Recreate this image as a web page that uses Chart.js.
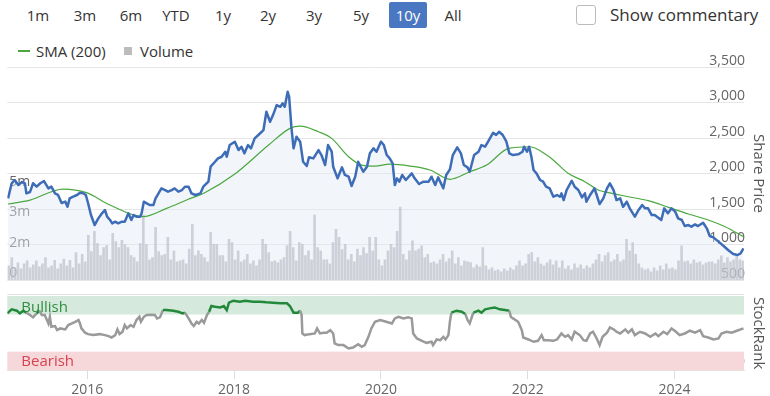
<!DOCTYPE html>
<html lang="en">
<head>
<meta charset="UTF-8">
<title>Share Price</title>
<script src="https://cdn.jsdelivr.net/npm/chart.js"></script>
<style>
  body { margin: 0; background: #fff; font-family: 'Open Sans', sans-serif; color: #333; }
  #wrap { position: relative; width: 770px; height: 396px; overflow: hidden; }
  .btn { position: absolute; top: 2px; width: 40px; height: 26px; line-height: 26px; text-align: center; font-size: 15px; color: #333; }
  .btn.on { background: #4a77c2; color: #fff; border-radius: 2px; width: 38px; }
  .lg { position: absolute; font-size: 15px; line-height: 18px; top: 42px; color: #333; }
  canvas { position: absolute; left: 0; }
</style>
</head>
<body>
<div id="wrap">
  <div class="btn" style="left:18px">1m</div>
  <div class="btn" style="left:65px">3m</div>
  <div class="btn" style="left:111px">6m</div>
  <div class="btn" style="left:156px">YTD</div>
  <div class="btn" style="left:203px">1y</div>
  <div class="btn" style="left:248px">2y</div>
  <div class="btn" style="left:294px">3y</div>
  <div class="btn" style="left:341px">5y</div>
  <div class="btn on" style="left:389px">10y</div>
  <div class="btn" style="left:433px">All</div>
  <div style="position:absolute;left:576px;top:5px;width:18px;height:18px;border:1px solid #bbb;border-radius:3px"></div>
  <div style="position:absolute;left:610px;top:3px;font-size:17px;line-height:24px;color:#333">Show commentary</div>

  <div style="position:absolute;left:18px;top:50px;width:12px;height:1.5px;background:#4aa83f"></div>
  <div class="lg" style="left:36px">SMA (200)</div>
  <div style="position:absolute;left:124px;top:47px;width:8px;height:8px;background:#bcbcbc"></div>
  <div class="lg" style="left:140px">Volume</div>

  <canvas id="priceChart" width="770" height="260" style="top:40px"></canvas>
  <canvas id="rankChart" width="770" height="115" style="top:285px"></canvas>
</div>
<script>
// x values are decimal years
var xMin = 2014.91
var xMax = 2024.947

var priceDates = [
  2014.92, 2014.97, 2015.01, 2015.06, 2015.11, 2015.15, 2015.17, 2015.22, 2015.26, 2015.31,
  2015.36, 2015.41, 2015.47, 2015.51, 2015.56, 2015.60, 2015.65, 2015.70, 2015.73, 2015.76,
  2015.80, 2015.86, 2015.90, 2015.95, 2015.98, 2016.01, 2016.05, 2016.10, 2016.15, 2016.20,
  2016.24, 2016.27, 2016.31, 2016.34, 2016.38, 2016.42, 2016.47, 2016.51, 2016.56, 2016.60,
  2016.63, 2016.67, 2016.72, 2016.74, 2016.77, 2016.81, 2016.85, 2016.90, 2016.93, 2016.97,
  2017.01, 2017.06, 2017.10, 2017.15, 2017.19, 2017.24, 2017.29, 2017.33, 2017.38, 2017.42,
  2017.47, 2017.54, 2017.58, 2017.65, 2017.68, 2017.74, 2017.78, 2017.83, 2017.88, 2017.90,
  2017.94, 2018.01, 2018.06, 2018.10, 2018.14, 2018.19, 2018.23, 2018.28, 2018.33, 2018.40,
  2018.44, 2018.49, 2018.53, 2018.58, 2018.63, 2018.66, 2018.69, 2018.73, 2018.75, 2018.78,
  2018.81, 2018.85, 2018.90, 2018.94, 2018.99, 2019.02, 2019.08, 2019.15, 2019.19, 2019.24,
  2019.28, 2019.33, 2019.35, 2019.41, 2019.47, 2019.51, 2019.56, 2019.60, 2019.65, 2019.69,
  2019.76, 2019.81, 2019.85, 2019.90, 2019.94, 2020.00, 2020.04, 2020.08, 2020.12, 2020.16,
  2020.19, 2020.22, 2020.25, 2020.29, 2020.34, 2020.42, 2020.46, 2020.52, 2020.58, 2020.65,
  2020.69, 2020.74, 2020.78, 2020.85, 2020.89, 2020.94, 2020.98, 2021.04, 2021.09, 2021.13,
  2021.18, 2021.21, 2021.27, 2021.33, 2021.37, 2021.42, 2021.46, 2021.53, 2021.57, 2021.61,
  2021.66, 2021.71, 2021.75, 2021.80, 2021.87, 2021.93, 2021.95, 2021.99, 2022.02, 2022.05,
  2022.08, 2022.12, 2022.17, 2022.21, 2022.25, 2022.30, 2022.35, 2022.40, 2022.44, 2022.46,
  2022.49, 2022.53, 2022.60, 2022.64, 2022.69, 2022.74, 2022.78, 2022.80, 2022.85, 2022.91,
  2022.94, 2022.98, 2023.03, 2023.08, 2023.12, 2023.17, 2023.21, 2023.26, 2023.30, 2023.35,
  2023.39, 2023.46, 2023.51, 2023.56, 2023.60, 2023.64, 2023.69, 2023.73, 2023.82, 2023.86,
  2023.91, 2023.96, 2024.01, 2024.05, 2024.10, 2024.14, 2024.19, 2024.23, 2024.28, 2024.32,
  2024.39, 2024.44, 2024.48, 2024.53, 2024.60, 2024.67, 2024.73, 2024.80, 2024.86, 2024.90,
  2024.94
]
var priceValues = [
  1650, 1862, 1908, 1838, 1880, 1862, 1720, 1740, 1862, 1815,
  1862, 1894, 1790, 1815, 1720, 1700, 1584, 1605, 1532, 1650,
  1672, 1697, 1730, 1720, 1697, 1584, 1415, 1274, 1368, 1439,
  1486, 1392, 1345, 1298, 1321, 1298, 1321, 1321, 1439, 1345,
  1415, 1392, 1392, 1439, 1603, 1580, 1556, 1556, 1650, 1720,
  1790, 1767, 1744, 1767, 1790, 1744, 1767, 1814, 1814, 1720,
  1697, 1720, 1814, 1885, 2096, 2166, 2213, 2236, 2307, 2236,
  2401, 2448, 2330, 2377, 2284, 2401, 2354, 2495, 2542, 2612,
  2870, 2729, 2823, 2964, 2940, 2988, 2940, 3151, 3080, 2659,
  2354, 2518, 2448, 2166, 2105, 2228, 2213, 2330, 2260, 2119,
  2401, 2307, 2096, 1932, 2087, 1979, 1955, 1824, 1955, 2166,
  2025, 2096, 2284, 2354, 2307, 2448, 2401, 2260, 2213, 2143,
  1838, 1932, 1885, 1979, 1908, 2002, 1932, 1852, 1885, 1885,
  1955, 1838, 1945, 1791, 1979, 2058, 2260, 2368, 2284, 2119,
  2087, 2025, 2260, 2307, 2401, 2377, 2448, 2574, 2542, 2588,
  2542, 2448, 2284, 2260, 2270, 2307, 2377, 2307, 2377, 2236,
  2049, 2002, 1908, 1885, 1814, 1790, 1673, 1697, 1673, 1720,
  1626, 1767, 1898, 1814, 1767, 1664, 1720, 1603, 1697, 1791,
  1697, 1570, 1650, 1790, 1861, 1767, 1626, 1650, 1532, 1603,
  1509, 1392, 1486, 1556, 1509, 1509, 1415, 1415, 1345, 1509,
  1439, 1509, 1462, 1368, 1345, 1260, 1274, 1250, 1283, 1260,
  1307, 1228, 1120, 1100, 1040, 979, 922, 866, 852, 875,
  946
]

var smaDates = [2014.92, 2015.22, 2015.67, 2015.99, 2016.31, 2016.76, 2017.08, 2017.36, 2017.60, 2018.01,
  2018.47, 2018.76, 2018.90, 2019.15, 2019.33, 2019.56, 2019.74, 2019.92, 2020.12, 2020.40,
  2020.67, 2020.94, 2021.21, 2021.44, 2021.74, 2022.03, 2022.26, 2022.37, 2022.55, 2022.78,
  2022.96, 2023.10, 2023.37, 2023.64, 2023.92, 2024.19, 2024.46, 2024.69, 2024.94]
var smaValues = [1570, 1626, 1781, 1730, 1556, 1392, 1509, 1630, 1730, 1993,
  2401, 2636, 2668, 2588, 2495, 2236, 2119, 2105, 2133, 2105,
  2049, 1918, 2025, 2119, 2354, 2377, 2260, 2170, 2002, 1885,
  1767, 1730, 1673, 1617, 1523, 1429, 1345, 1250, 1110]

// volume in millions, one bar per half month
var volStart = 2014.93
var volStep = 1 / 24
var volValues = [
  0.7, 1.1, 0.6, 0.85, 0.55, 0.8, 0.95, 0.6, 0.75, 0.95,
  0.65, 0.8, 1.1, 0.6, 0.7, 0.97, 0.55, 0.8, 1.03, 0.7,
  0.97, 0.6, 1.35, 0.8, 1.27, 0.9, 2.2, 1.4, 2.4, 1.8,
  1.2, 1.6, 1.7, 1.0, 2.3, 1.9, 1.6, 1.95, 1.75, 1.6,
  1.2, 1.1, 0.9, 1.8, 3.2, 1.75, 1.0, 1.1, 2.6, 1.4,
  1.2, 1.27, 2.1, 1.0, 1.44, 0.9, 0.95, 1.0, 0.8, 1.52,
  2.75, 1.2, 1.44, 1.27, 1.1, 0.9, 2.35, 1.76, 1.76, 1.2,
  1.2, 0.9, 2.0, 1.85, 1.0, 1.44, 0.9, 1.0, 1.27, 0.8,
  0.94, 0.7, 1.0, 2.0, 1.76, 1.35, 0.9, 0.94, 0.85, 1.0,
  1.1, 1.7, 2.4, 1.6, 0.95, 1.85, 1.76, 1.2, 1.44, 1.0,
  3.2, 1.6, 1.44, 1.0, 1.0, 0.8, 1.85, 2.5, 2.1, 1.5,
  1.76, 1.0, 1.27, 0.9, 1.52, 1.2, 1.6, 1.3, 2.1, 1.44,
  2.1, 1.0, 0.7, 1.0, 1.44, 1.76, 1.6, 2.4, 3.6, 1.27,
  1.0, 1.44, 1.93, 1.44, 1.52, 1.68, 1.1, 1.27, 0.85, 0.9,
  0.8, 1.0, 1.27, 0.9, 1.05, 1.44, 0.8, 1.1, 0.7, 0.95,
  0.9, 0.86, 0.6, 0.75, 0.65, 1.6, 0.7, 0.5, 0.6, 0.45,
  0.5, 0.4, 0.55, 0.45, 0.6, 0.5, 0.7, 0.94, 0.7, 0.8,
  1.27, 1.35, 0.9, 1.1, 0.8, 0.7, 0.85, 1.0, 0.75, 0.94,
  0.6, 0.94, 0.55, 0.7, 0.5, 0.8, 0.6, 0.75, 0.55, 0.7,
  0.6, 0.8, 1.0, 1.27, 0.9, 1.2, 1.35, 0.9, 1.0, 1.27,
  0.9, 1.0, 2.0, 1.44, 1.85, 1.27, 0.8, 0.6, 0.5, 0.55,
  0.4, 0.6, 0.45, 0.7, 0.5, 0.8, 0.55, 0.6, 0.5, 0.94,
  1.68, 0.9, 0.94, 0.8, 1.0, 0.85, 0.9, 0.75, 0.85, 0.9,
  0.9, 0.8, 1.0, 1.19, 0.85, 1.1, 0.9, 1.0, 1.19, 1.0,
  0.95
]
var volTicks = [0, 1.5, 3, 4.5]

var rankDates = [
  2014.91, 2014.97, 2015.04, 2015.08, 2015.13, 2015.17, 2015.22, 2015.26, 2015.31, 2015.35,
  2015.38, 2015.42, 2015.47, 2015.49, 2015.51, 2015.56, 2015.59, 2015.63, 2015.70, 2015.74,
  2015.79, 2015.83, 2015.88, 2015.90, 2015.92, 2015.97, 2016.01, 2016.08, 2016.17, 2016.24,
  2016.29, 2016.33, 2016.38, 2016.41, 2016.44, 2016.48, 2016.51, 2016.54, 2016.59, 2016.63,
  2016.67, 2016.71, 2016.73, 2016.77, 2016.81, 2016.88, 2016.92, 2016.95, 2016.99, 2017.03,
  2017.08, 2017.17, 2017.24, 2017.30, 2017.33, 2017.38, 2017.42, 2017.45, 2017.49, 2017.52,
  2017.56, 2017.59, 2017.63, 2017.66, 2017.69, 2017.74, 2017.81, 2017.86, 2017.90, 2017.93,
  2017.99, 2018.08, 2018.15, 2018.26, 2018.35, 2018.44, 2018.53, 2018.63, 2018.72, 2018.76,
  2018.81, 2018.87, 2018.90, 2018.92, 2018.93, 2018.96, 2019.03, 2019.10, 2019.13, 2019.17,
  2019.22, 2019.26, 2019.31, 2019.35, 2019.37, 2019.42, 2019.49, 2019.56, 2019.62, 2019.69,
  2019.74, 2019.78, 2019.83, 2019.87, 2019.92, 2019.99, 2020.05, 2020.15, 2020.19, 2020.24,
  2020.31, 2020.37, 2020.42, 2020.44, 2020.49, 2020.56, 2020.62, 2020.69, 2020.71, 2020.76,
  2020.81, 2020.85, 2020.88, 2020.92, 2020.94, 2020.96, 2021.03, 2021.10, 2021.15, 2021.18,
  2021.21, 2021.24, 2021.26, 2021.33, 2021.37, 2021.42, 2021.48, 2021.55, 2021.62, 2021.69,
  2021.75, 2021.77, 2021.80, 2021.87, 2021.92, 2021.94, 2022.01, 2022.08, 2022.14, 2022.19,
  2022.22, 2022.28, 2022.35, 2022.40, 2022.46, 2022.51, 2022.55, 2022.60, 2022.64, 2022.71,
  2022.76, 2022.80, 2022.85, 2022.89, 2022.94, 2022.98, 2023.02, 2023.08, 2023.12, 2023.17,
  2023.21, 2023.26, 2023.33, 2023.37, 2023.42, 2023.46, 2023.53, 2023.60, 2023.67, 2023.74,
  2023.78, 2023.85, 2023.90, 2023.96, 2024.02, 2024.07, 2024.14, 2024.21, 2024.28, 2024.35,
  2024.39, 2024.46, 2024.53, 2024.60, 2024.64, 2024.71, 2024.78, 2024.85, 2024.94
]
var rankValues = [
  76.6, 82, 80.2, 76.6, 80.2, 77.5, 74.3, 71.2, 76.6, 80.2,
  74.3, 74.3, 63, 72, 58.6, 59.5, 54, 56.3, 55, 60.8,
  63, 64.9, 67.6, 63, 56.3, 50.5, 48.6, 47.3, 48.6, 47.3,
  45.9, 44.1, 47.3, 55, 48.6, 51.8, 60.8, 56.3, 60.8, 58.6,
  67.6, 72, 65.3, 72, 74.5, 74.8, 74.5, 69.8, 71.2, 81,
  81, 80.2, 78.8, 76.6, 77.5, 69.8, 63, 59.5, 65.3, 63,
  67.6, 64, 74.3, 78.8, 86.5, 85.5, 84.6, 86.5, 81, 91,
  93.7, 92.3, 93.7, 92.3, 92.3, 91.5, 91, 90.1, 90.1, 86.5,
  77.5, 77.5, 80.2, 74.3, 49.5, 47.3, 48.6, 49.5, 56.3, 49.5,
  50.5, 50.5, 54, 49.5, 36, 33.8, 33.8, 29.3, 30.6, 35.1,
  31.5, 33.8, 45, 56.3, 65.3, 67.6, 66, 63, 69.8, 72,
  69.8, 71.2, 69.8, 49.5, 42.8, 39.6, 36.9, 38.3, 33.8, 41.4,
  40.5, 45, 41.4, 47.3, 65.3, 77.5, 80.2, 78.8, 75.7, 67.6,
  63, 72, 77.5, 80.2, 77.5, 82, 83.3, 84.6, 82, 81,
  80.2, 72, 69.8, 65.3, 54, 44.1, 41.4, 38.3, 39.6, 47.3,
  40.5, 40.5, 39.6, 41.4, 49.5, 45, 47.3, 41.4, 51.8, 47.3,
  40.5, 39.6, 49.5, 51.8, 42.8, 33.8, 45, 50.5, 57.7, 55,
  51.8, 49.5, 55, 50.5, 55, 47.3, 51.8, 49.5, 45, 49.5,
  45.9, 51.8, 48.6, 56.3, 51.8, 47.3, 49.5, 53.2, 50.5, 54,
  45.9, 44.1, 41.4, 42.8, 49.5, 51.8, 50.5, 53.2, 56.3
]
var bullishBand = [75, 100]
var bearishBand = [0, 25]

var fontFamily = "'Open Sans', sans-serif"
Chart.defaults.font.family = fontFamily
Chart.defaults.color = '#666'
Chart.defaults.animation = false

function pairs(xs, ys) {
  return ys.map(function (y, i) { return { x: xs[i], y: y } })
}

var volData = volValues.map(function (v, i) { return { x: volStart + i * volStep, y: v } })

var priceChart = new Chart(document.getElementById('priceChart'), {
  type: 'line',
  data: {
    datasets: [{
      label: 'Share Price',
      data: pairs(priceDates, priceValues),
      yAxisID: 'y',
      borderColor: '#3e6db7',
      borderWidth: 2.5,
      borderJoinStyle: 'round',
      backgroundColor: 'rgba(226, 232, 245, 0.45)',
      fill: 'start',
      pointRadius: 0,
      tension: 0,
      order: 0
    }, {
      label: 'SMA (200)',
      data: pairs(smaDates, smaValues),
      yAxisID: 'y',
      borderColor: '#4aa83f',
      borderWidth: 1.2,
      pointRadius: 0,
      cubicInterpolationMode: 'monotone',
      fill: false,
      order: 1
    }, {
      type: 'bar',
      label: 'Volume',
      data: volData,
      yAxisID: 'vol',
      backgroundColor: 'rgba(190, 193, 201, 0.7)',
      barThickness: 2,
      order: 2
    }]
  },
  options: {
    responsive: false,
    events: [],
    layout: { padding: { top: 27, bottom: 20, left: 3.3, right: 0 } },
    plugins: {
      legend: { display: false },
      tooltip: { enabled: false },
      filler: { drawTime: 'beforeDatasetsDraw' }
    },
    scales: {
      x: { type: 'linear', min: xMin, max: xMax, offset: false, display: false },
      y: {
        position: 'right',
        min: 500, max: 3500,
        border: { display: false },
        grid: { color: '#e6e6e6', drawTicks: false },
        ticks: {
          stepSize: 500, mirror: true, padding: 1, labelOffset: -6,
          font: { size: 14 }, color: '#666',
          callback: function (v) { return v.toLocaleString('en-US') }
        },
        title: { display: true, text: 'Share Price', font: { size: 15 }, color: '#555', padding: { top: 3, bottom: 3 } }
      },
      vol: {
        position: 'left',
        min: 0, max: 10.5,
        border: { display: false },
        grid: { display: false, drawTicks: false },
        afterBuildTicks: function (scale) { scale.ticks = volTicks.map(function (v) { return { value: v } }) },
        ticks: {
          mirror: true, padding: 2, labelOffset: -7,
          font: { size: 14 }, color: '#666',
          callback: function (v) { return v === 0 ? '0' : Math.round(v) + 'm' }
        }
      }
    }
  }
})

var bandPlugin = {
  id: 'bands',
  beforeDatasetsDraw: function (chart) {
    var ctx = chart.ctx, a = chart.chartArea, y = chart.scales.y
    ctx.save()
    ctx.strokeStyle = '#e3e3e3'
    ctx.lineWidth = 1
    ctx.beginPath()
    ctx.moveTo(a.left, Math.round(a.top) - 1.5)
    ctx.lineTo(a.right, Math.round(a.top) - 1.5)
    ctx.stroke()
    var bTop = y.getPixelForValue(bullishBand[1]), bBot = y.getPixelForValue(bullishBand[0])
    var rTop = y.getPixelForValue(bearishBand[1]), rBot = y.getPixelForValue(bearishBand[0])
    ctx.fillStyle = '#d5eadc'
    ctx.fillRect(a.left, bTop, a.right - a.left, bBot - bTop)
    ctx.fillStyle = '#f6d8da'
    ctx.fillRect(a.left, rTop, a.right - a.left, rBot - rTop)
    ctx.font = '15px ' + fontFamily
    ctx.textBaseline = 'middle'
    ctx.fillStyle = '#2f8f3f'
    ctx.fillText('Bullish', a.left + 14, (bTop + bBot) / 2 + 2)
    ctx.fillStyle = '#d7424f'
    ctx.fillText('Bearish', a.left + 14, (rTop + rBot) / 2 + 1)
    ctx.restore()
  }
}

var rankChart = new Chart(document.getElementById('rankChart'), {
  type: 'line',
  data: {
    datasets: [{
      label: 'StockRank',
      data: pairs(rankDates, rankValues),
      borderColor: '#9a9a9a',
      borderWidth: 2.5,
      pointRadius: 0,
      tension: 0,
      segment: {
        borderColor: function (c) {
          return (c.p0.parsed.y >= bullishBand[0] && c.p1.parsed.y >= bullishBand[0]) ? '#22893a' : '#9a9a9a'
        }
      }
    }]
  },
  plugins: [bandPlugin],
  options: {
    responsive: false,
    events: [],
    layout: { padding: { top: 11, bottom: 0, left: 7.3, right: 0 } },
    plugins: { legend: { display: false }, tooltip: { enabled: false } },
    scales: {
      x: {
        type: 'linear', min: xMin, max: xMax, offset: false,
        border: { display: true, color: '#e3e3e3' },
        grid: { drawOnChartArea: false, drawTicks: true, tickLength: 9, color: '#dcdcdc' },
        ticks: {
          stepSize: 2, includeBounds: false, padding: 2, maxRotation: 0,
          font: { size: 14 }, color: '#666',
          callback: function (v) { return String(v) }
        }
      },
      y: {
        position: 'right',
        min: 0, max: 100,
        border: { display: false },
        grid: { display: false, drawTicks: false },
        afterBuildTicks: function (scale) { scale.ticks = [{ value: 0 }] },
        ticks: { mirror: true, padding: 1, labelOffset: -8, font: { size: 14 }, color: '#666' },
        title: { display: true, text: 'StockRank', font: { size: 15 }, color: '#555', padding: { top: 3, bottom: 3 } }
      }
    }
  }
})
</script>
</body>
</html>
